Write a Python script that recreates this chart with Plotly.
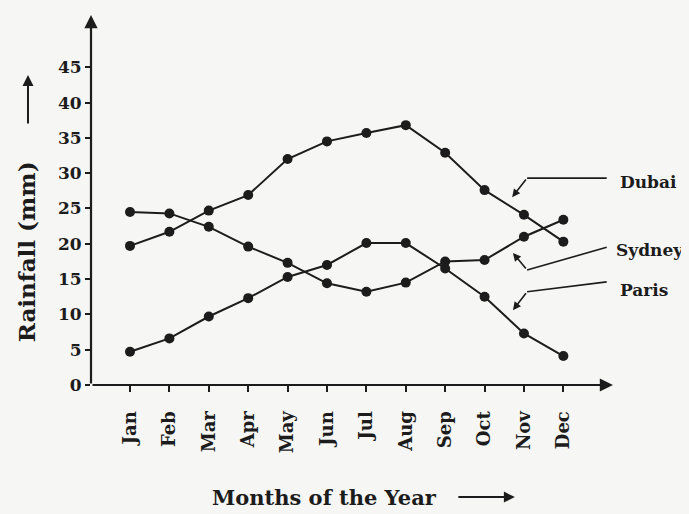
import plotly.graph_objects as go

months = ["Jan", "Feb", "Mar", "Apr", "May", "Jun", "Jul", "Aug", "Sep", "Oct", "Nov", "Dec"]
dubai = [19.7, 21.7, 24.7, 26.9, 32.0, 34.5, 35.7, 36.8, 32.9, 27.6, 24.1, 20.3]
sydney = [24.5, 24.3, 22.4, 19.6, 17.3, 14.4, 13.2, 14.5, 17.5, 17.7, 21.0, 23.4]
paris = [4.7, 6.6, 9.7, 12.3, 15.3, 17.0, 20.1, 20.1, 16.5, 12.5, 7.3, 4.1]
y_ticks = [0, 5, 10, 15, 20, 25, 30, 35, 40, 45]

xpos = list(range(1, len(months) + 1))
X0, X1 = 0.01, 13.26
Y0, Y1 = 0, 52.4

ink = "#1c1c1c"
bg = "#f6f6f4"
serif = dict(family="DejaVu Serif", color=ink, weight="bold")

fig = go.Figure()
for vals, name in [(dubai, "Dubai"), (sydney, "Sydney"), (paris, "Paris")]:
    fig.add_trace(go.Scatter(
        x=xpos, y=vals, mode="lines+markers", name=name,
        line=dict(color=ink, width=2),
        marker=dict(color=ink, size=10),
        cliponaxis=False, showlegend=False,
    ))

annotations = [
    # axes with arrowheads
    dict(x=X1, y=0, ax=X0, ay=0, xref="x", yref="y", axref="x", ayref="y",
         text="", showarrow=True, arrowhead=2, arrowsize=1.2, arrowwidth=2.2, arrowcolor=ink),
    dict(x=X0, y=Y1, ax=X0, ay=0, xref="x", yref="y", axref="x", ayref="y",
         text="", showarrow=True, arrowhead=2, arrowsize=1.2, arrowwidth=2.2, arrowcolor=ink),
    # axis titles
    dict(x=-0.1245, y=0.359, xref="paper", yref="paper", text="Rainfall (mm)", textangle=-90,
         xanchor="center", yanchor="middle",
         showarrow=False, font=dict(size=23, **serif)),
    dict(x=-0.1207, y=0.838, xref="paper", yref="paper", text="", showarrow=True,
         ax=0, ay=50, arrowhead=2, arrowsize=1.1, arrowwidth=2, arrowcolor=ink),
    dict(x=0.228, y=-0.303, xref="paper", yref="paper", text="Months of the Year",
         xanchor="left", yanchor="middle",
         showarrow=False, font=dict(size=21, **serif)),
    dict(x=0.812, y=-0.303, xref="paper", yref="paper", text="", showarrow=True,
         ax=-58, ay=0, arrowhead=2, arrowsize=1.1, arrowwidth=2, arrowcolor=ink),
    # labels
    dict(x=1.0096, y=0.549, xref="paper", yref="paper", text="Dubai", xanchor="left",
         yanchor="middle", showarrow=False, font=dict(size=17, **serif)),
    dict(x=1.002, y=0.365, xref="paper", yref="paper", text="Sydney", xanchor="left",
         yanchor="middle", showarrow=False, font=dict(size=17, **serif)),
    dict(x=1.0096, y=0.257, xref="paper", yref="paper", text="Paris", xanchor="left",
         yanchor="middle", showarrow=False, font=dict(size=17, **serif)),
    # label pointers
    dict(x=10.70, y=26.6, ax=11.08, ay=29.3, xref="x", yref="y", axref="x", ayref="y", text="",
         showarrow=True, arrowhead=2, arrowsize=1, arrowwidth=1.6, arrowcolor=ink),
    dict(x=10.72, y=18.7, ax=11.08, ay=16.3, xref="x", yref="y", axref="x", ayref="y", text="",
         showarrow=True, arrowhead=2, arrowsize=1, arrowwidth=1.6, arrowcolor=ink),
    dict(x=10.72, y=10.6, ax=11.08, ay=13.2, xref="x", yref="y", axref="x", ayref="y", text="",
         showarrow=True, arrowhead=2, arrowsize=1, arrowwidth=1.6, arrowcolor=ink),
]

shapes = [
    dict(type="line", xref="x", yref="y", x0=11.08, y0=29.3, x1=13.1, y1=29.3,
         line=dict(color=ink, width=1.6)),
    dict(type="line", xref="x", yref="y", x0=11.08, y0=16.3, x1=13.1, y1=19.5,
         line=dict(color=ink, width=1.6)),
    dict(type="line", xref="x", yref="y", x0=11.08, y0=13.2, x1=13.1, y1=14.6,
         line=dict(color=ink, width=1.6)),
]

# page body has an 8px margin; the figure is sized/offset to compensate
fig.update_layout(
    width=681, height=506,
    margin=dict(l=83, r=76, t=7, b=129),
    paper_bgcolor=bg, plot_bgcolor=bg,
    annotations=annotations, shapes=shapes,
    xaxis=dict(range=[X0, X1], tickmode="array", tickvals=xpos, ticktext=months,
               tickangle=-90, ticks="outside", ticklen=6, tickwidth=1.5, tickcolor=ink,
               ticklabelstandoff=12,
               showgrid=False, zeroline=False, showline=False,
               tickfont=dict(size=18, **serif)),
    yaxis=dict(range=[Y0, Y1], tickmode="array", tickvals=y_ticks,
               ticks="outside", ticklen=5, tickwidth=1.5, tickcolor=ink,
               showgrid=False, zeroline=False, showline=False,
               tickfont=dict(size=17, **serif)),
)

fig.write_html("out.html", post_script="document.body.style.background='%s';" % bg)
